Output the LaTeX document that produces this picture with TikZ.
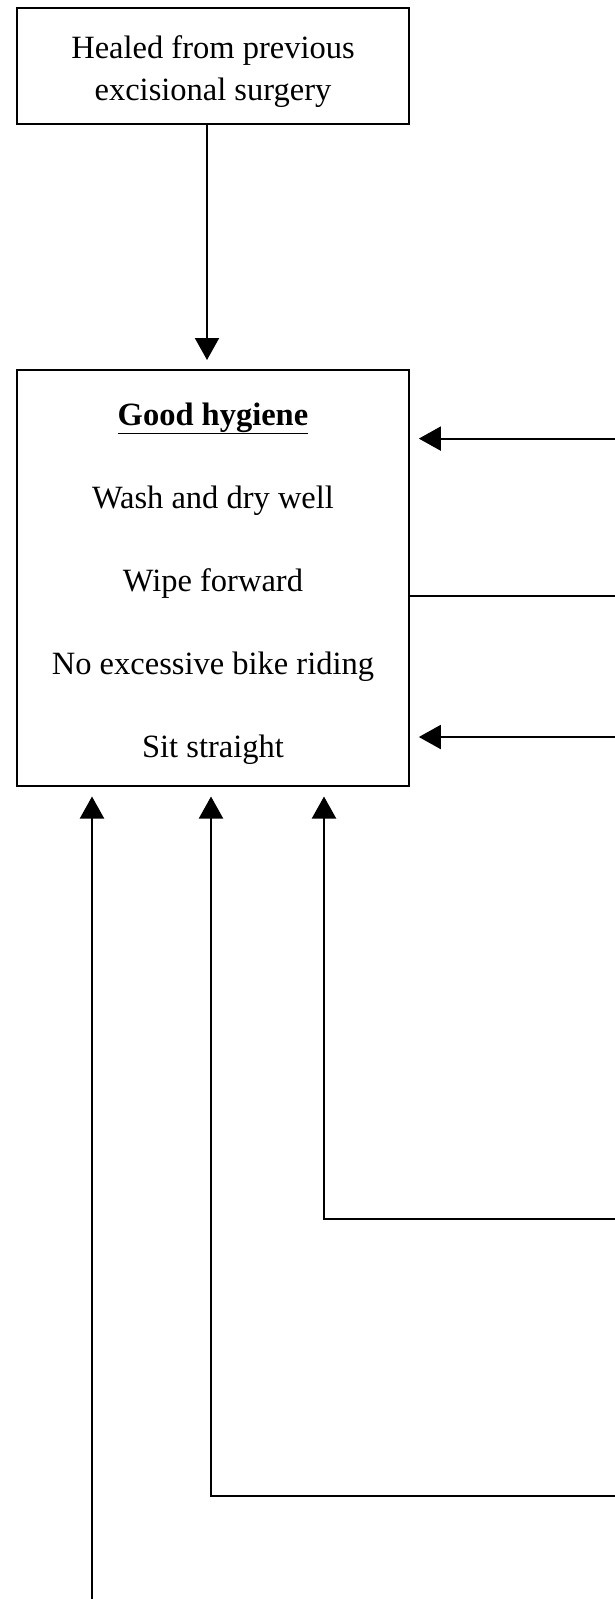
\documentclass[tikz,border=0pt]{standalone}
\usepackage{fontspec}
\setmainfont{Liberation Serif}
\usetikzlibrary{arrows.meta,positioning}

\begin{document}
\begin{tikzpicture}[x=1pt,y=1pt,>={Triangle[width=24pt,length=22pt]},line width=2pt]
\tikzstyle{box}=[draw, align=center, minimum width=391.7pt, inner sep=0pt, font=\fontsize{32.5}{42}\selectfont]
\useasboundingbox (0,0) rectangle (615,-1599);
\node[box, minimum height=116.2pt] (heal) at (213,-66.3) {\rule{0pt}{34pt}Healed from previous\\excisional surgery};
\node[box, minimum height=416pt, below=243.6pt of heal, font=\fontsize{32.5}{83}\selectfont] (hyg) {\rule{0pt}{33pt}\underline{\textbf{Good hygiene}}\\Wash and dry well\\Wipe forward\\No excessive bike riding\\Sit straight};
\coordinate (in1) at (615,-438.6);
\coordinate (out1) at (615,-596);
\coordinate (in2) at (615,-737);
\coordinate (b1) at (615,-1219);
\coordinate (b2) at (615,-1496);
\coordinate (b3) at (92,-1599);
\draw[->, shorten >=9pt] ([xshift=-6pt]heal.south) -- ([xshift=-6pt]hyg.north);
\draw[->, shorten >=9pt] (in1) -- (in1 -| hyg.east);
\draw (hyg.east |- out1) -- (out1);
\draw[->, shorten >=9pt] (in2) -- (in2 -| hyg.east);
\draw[->, shorten >=9.5pt] (b1) -| ([xshift=111pt]hyg.south);
\draw[->, shorten >=9.5pt] (b2) -| ([xshift=-2pt]hyg.south);
\draw[->, shorten >=9.5pt] (b3) -- (b3 |- hyg.south);
\end{tikzpicture}
\end{document}
